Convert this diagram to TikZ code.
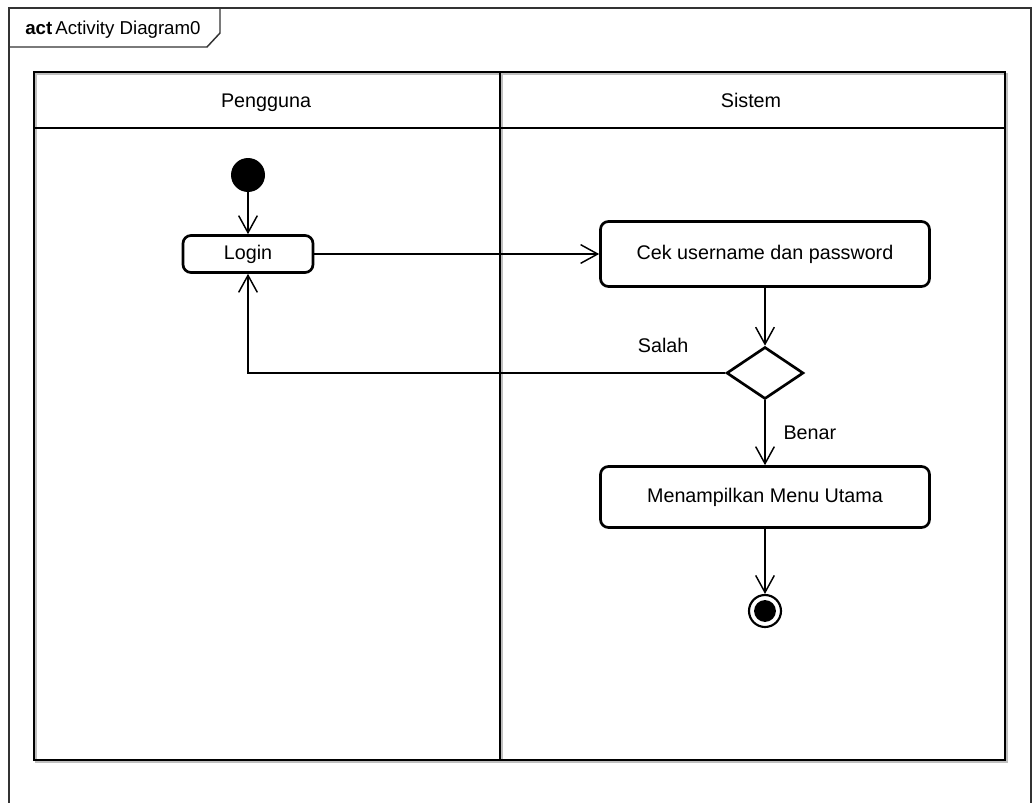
\documentclass[tikz,border=0pt]{standalone}
\usepackage{fontspec}
\setmainfont{Liberation Sans}
\usetikzlibrary{arrows.meta, positioning, shapes.geometric}

\begin{document}
\begin{tikzpicture}[x=0.75pt, y=-0.75pt,
    lane/.style={draw=black, line width=2.2pt},
    laneshade/.style={draw=black!25, line width=2.2pt},
    action/.style={rectangle, rounded corners=6pt, draw=black, line width=2pt,
      fill=white, font=\fontsize{14.8}{17}\selectfont, inner sep=0pt},
    decision/.style={diamond, draw=black, line width=2pt, fill=white,
      minimum width=57.75pt, minimum height=39pt, inner sep=0pt},
    initnode/.style={circle, fill=black, minimum size=25.5pt, inner sep=0pt},
    finalnode/.style={circle, draw=black, line width=1.6pt, fill=white,
      minimum size=24pt, inner sep=0pt,
      path picture={\fill[black] (path picture bounding box.center) circle (8.2pt);}},
    flow/.style={line width=1.1pt,
      -{Straight Barb[length=12.75pt, width=14pt, line width=1.1pt]}},
    lbl/.style={font=\fontsize{14.8}{17}\selectfont}
  ]
  \useasboundingbox (0,0) rectangle (1033,803);
  \fill[white] (0,0) rectangle (1033,803);

  % frame and its tab
  \draw[line width=1.1pt, draw=black!80] (9,803) -- (9,8) -- (1031,8) -- (1031,803);
  \draw[line width=1.1pt, draw=black!80] (9,47) -- (207,47) -- (220,33) -- (220,8);
  \node[font=\fontsize{14}{16}\selectfont, anchor=west, inner sep=0pt]
    (title) at (25,30) {\textbf{act}\,Activity Diagram0};

  % swimlanes
  \draw[laneshade] (36,74) rectangle (1007,762);
  \draw[laneshade] (502,74) -- (502,762);
  \draw[lane] (34,72) rectangle (1005,760);
  \draw[lane] (34,128) -- (1005,128);
  \draw[lane] (500,72) -- (500,760);
  \node[lbl, anchor=base] (pengguna) at (266,107) {Pengguna};
  \node[lbl, anchor=base] (sistem) at (751,107) {Sistem};

  % activities
  \node[initnode] (init) at (248,175) {};
  \node[action, minimum width=97.5pt, minimum height=27.75pt] (login) at (248,254) {Login};
  \node[action, minimum width=246.75pt, minimum height=48.75pt]
    (cek) at (765,254) {Cek username dan password};
  \node[decision] (dec) at (765,373) {};
  \node[action, minimum width=246.75pt, minimum height=45.75pt]
    (menu) at (765,497) {Menampilkan Menu Utama};
  \node[finalnode] (final) at (765,611) {};

  % flows
  \draw[flow] (init) -- (login);
  \draw[flow] (login) -- (cek);
  \draw[flow] (cek) -- (dec);
  \draw[flow] (dec.west) -- node[lbl, pos=0.13, above=11pt] (salah) {Salah}
    (dec.west -| login) -- (login);
  \draw[flow] (dec) -- node[lbl, right=10pt] (benar) {Benar} (menu);
  \draw[flow] (menu) -- (final);
\end{tikzpicture}
\end{document}
